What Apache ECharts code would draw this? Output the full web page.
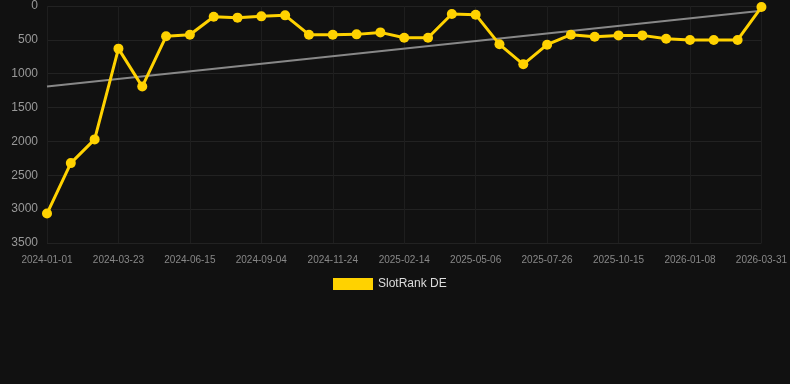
<!DOCTYPE html>
<html><head><meta charset="utf-8">
<script src="https://cdn.jsdelivr.net/npm/echarts@6/dist/echarts.min.js"></script>
<style>html,body{margin:0;padding:0;background:#111111;}#c{width:790px;height:384px;}</style>
</head><body><div id="c"></div>
<script>
var categories = ["2024-01-01","2024-01-28","2024-02-24","2024-03-23","2024-04-20","2024-05-18","2024-06-15","2024-07-12","2024-08-08","2024-09-04","2024-10-01","2024-10-28","2024-11-24","2024-12-21","2025-01-18","2025-02-14","2025-03-13","2025-04-09","2025-05-06","2025-06-02","2025-06-29","2025-07-26","2025-08-22","2025-09-18","2025-10-15","2025-11-11","2025-12-10","2026-01-08","2026-02-04","2026-03-03","2026-03-31"];
var rankValues = [3065,2320,1970,630,1190,448,424,158,172,153,138,424,424,419,390,468,468,118,128,566,861,571,424,453,434,434,483,502,502,502,15];
var trendStart = 1190;
var trendEnd = 70;
var seriesName = "SlotRank DE";

var trendData = categories.map(function(c,i){ return i===0 ? trendStart : (i===categories.length-1 ? trendEnd : null); });

var chart = echarts.init(document.getElementById('c'));
chart.setOption({
  backgroundColor:'#111111',
  animation:false,
  grid:{left:47,right:28,top:6,bottom:141},
  legend:{
    top:273, left:328,
    data:[seriesName],
    itemWidth:40,itemHeight:12,
    icon:'rect',
    textStyle:{color:'#dddddd',fontSize:12,fontFamily:'Arial, Liberation Sans, sans-serif'}
  },
  xAxis:{
    type:'category',
    data:categories,
    boundaryGap:false,
    axisLine:{show:false},
    axisTick:{show:false},
    axisLabel:{interval:2,color:'#888888',fontSize:10,margin:12,fontFamily:'Arial, Liberation Sans, sans-serif'},
    splitLine:{show:true,interval:2,lineStyle:{color:'#1e1e1e',width:1}}
  },
  yAxis:{
    type:'value',
    inverse:true,
    min:0,max:3500,interval:500,
    axisLine:{show:false},
    axisTick:{show:false},
    axisLabel:{color:'#999999',fontSize:12,margin:9,fontFamily:'Arial, Liberation Sans, sans-serif',
      formatter:function(v){return String(v);}},
    splitLine:{lineStyle:{color:'#222222',width:1}}
  },
  series:[
    {
      name:'trend',type:'line',data:trendData,connectNulls:true,
      symbol:'none',silent:true,
      lineStyle:{color:'#888888',width:2},
      z:1
    },
    {
      name:seriesName,type:'line',data:rankValues,
      symbol:'circle',symbolSize:10,
      itemStyle:{color:'#FFD200'},
      lineStyle:{color:'#FFD200',width:3},
      z:2
    }
  ]
});
</script></body></html>
